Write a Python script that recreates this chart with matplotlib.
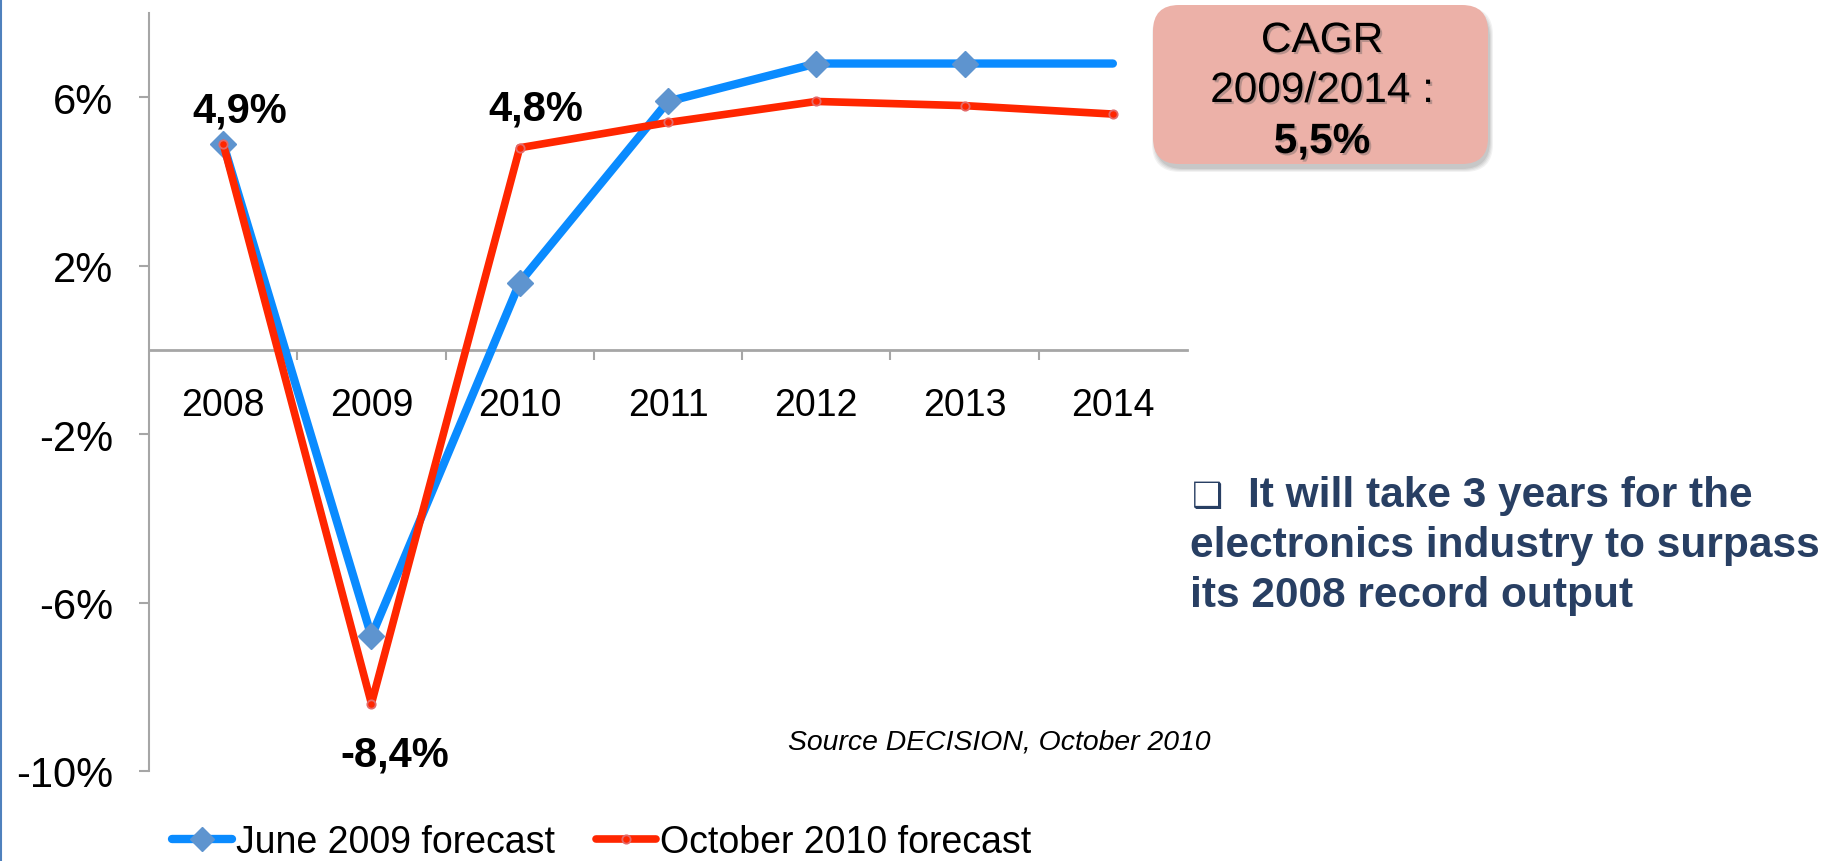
import matplotlib
matplotlib.use("Agg")
import matplotlib.pyplot as plt
import matplotlib.patheffects as pe
from matplotlib.lines import Line2D
from matplotlib.patches import FancyBboxPatch
from matplotlib.transforms import IdentityTransform

plt.rcParams['font.family'] = ['Liberation Sans', 'DejaVu Sans']

# Growth of world electronics output, % per year
years = ["2008", "2009", "2010", "2011", "2012", "2013", "2014"]
june_2009 = [4.9, -6.8, 1.6, 5.9, 6.8, 6.8, 6.8]
october_2010 = [4.9, -8.4, 4.8, 5.4, 5.9, 5.8, 5.6]
y_ticks = [-10, -6, -2, 2, 6]
y_tick_labels = ["-10%", "-6%", "-2%", "2%", "6%"]
series_names = ["June 2009 forecast", "October 2010 forecast"]
labelled_points = [0, 1, 2]      # October 2010 points that get a value label
cagr = 5.5

BLUE = '#0A8BFF'
DIAMOND = '#5E94CF'
RED = '#FF2600'
RED_EDGE = '#E36A6A'
GRAY = '#A6A6A6'
NAVY = '#283F63'

W, H = 1833, 862
fig = plt.figure(figsize=(W / 100, H / 100), dpi=100)
ax = fig.add_axes([149 / W, 1 - 772 / H, 1038 / W, (772 - 14) / H])

x = list(range(len(years)))
ax.plot(x, june_2009, color=BLUE, lw=6, solid_capstyle='round',
        solid_joinstyle='round', zorder=3)
ax.plot(x[:-1], june_2009[:-1], ls='none', marker='D', ms=13,
        color=DIAMOND, zorder=4)
ax.plot(x, october_2010, color=RED, lw=5.5, solid_capstyle='round',
        solid_joinstyle='round', marker='o', ms=6, mfc=RED, mec=RED_EDGE,
        mew=1.3, zorder=5)

ax.set_xlim(-0.5, len(years) - 0.5)
ax.set_ylim(-10, 8)

for side in ('top', 'right'):
    ax.spines[side].set_visible(False)
ax.spines['left'].set_color(GRAY)
ax.spines['left'].set_linewidth(1.5)
ax.spines['bottom'].set_position(('data', 0))
ax.spines['bottom'].set_color(GRAY)
ax.spines['bottom'].set_linewidth(2)

ax.set_xticks(x)
ax.set_xticklabels(years)
ax.set_xticks([i + 0.5 for i in x[:-1]], minor=True)
ax.tick_params(axis='x', which='major', length=0, pad=27, labelsize=27)
ax.tick_params(axis='x', which='minor', length=7, width=1.5, color=GRAY)

ax.set_yticks(y_ticks)
ax.set_yticklabels(y_tick_labels)
ax.tick_params(axis='y', length=7, width=1.5, color=GRAY, pad=19, labelsize=30)

# value labels on the October 2010 series
offsets = {0: (17, 22), 1: (23, -62), 2: (16, 28)}
for i in labelled_points:
    v = october_2010[i]
    ax.annotate(f"{v:.1f}%".replace('.', ','), (i, v), xytext=offsets[i],
                textcoords='offset pixels', ha='center', va='baseline',
                fontsize=30, fontweight='bold', zorder=6)

# legend
handles = [
    Line2D([], [], color=BLUE, lw=6, marker='D', ms=12, mfc=DIAMOND,
           mec=DIAMOND, solid_capstyle='round'),
    Line2D([], [], color=RED, lw=5.5, marker='o', ms=6, mfc=RED,
           mec=RED_EDGE, mew=1.3, solid_capstyle='round'),
]
fig.legend(handles, series_names, loc='center left',
           bbox_to_anchor=(172 / W, 1 - 843 / H), ncol=2, frameon=False,
           fontsize=27, handlelength=1.6, handletextpad=0.1,
           columnspacing=1.1, borderpad=0, borderaxespad=0)

# CAGR box with a soft drop shadow
bx, by, bw, bh = 1153, H - 165, 335, 159
for k, a in enumerate([0.05, 0.05, 0.06, 0.07]):
    grow = 3 - k
    fig.patches.append(FancyBboxPatch(
        (bx + 2 - grow, by - 5 - grow), bw + 2 * grow, bh + 2 * grow,
        boxstyle="round,pad=0,rounding_size=28", transform=IdentityTransform(),
        facecolor='#000000', edgecolor='none', alpha=a, figure=fig))
fig.patches.append(FancyBboxPatch(
    (bx, by), bw, bh, boxstyle="round,pad=0,rounding_size=26",
    transform=IdentityTransform(), facecolor='#ECB1A8', edgecolor='none',
    figure=fig))

shadow = [pe.SimplePatchShadow(offset=(1.5, -1.5), shadow_rgbFace='#555555',
                               alpha=0.35), pe.Normal()]
cx = 1322 / W
fig.text(cx, 1 - 53 / H, "CAGR", ha='center', va='baseline', fontsize=30.5,
         path_effects=shadow)
fig.text(cx, 1 - 103 / H, "2009/2014 :", ha='center', va='baseline',
         fontsize=30.5, path_effects=shadow)
fig.text(cx, 1 - 154 / H, f"{cagr:.1f}%".replace('.', ','), ha='center',
         va='baseline', fontsize=30.5, fontweight='bold', path_effects=shadow)

# comment on the right
fig.text(1192 / W, 1 - 507 / H, "\u2751", ha='left', va='baseline',
         fontsize=25, color=NAVY, family=['DejaVu Sans'])
fig.text(1248 / W, 1 - 507 / H, "It will take 3 years for the", ha='left',
         va='baseline', fontsize=30.5, fontweight='bold', color=NAVY)
fig.text(1190 / W, 1 - 557 / H, "electronics industry to surpass", ha='left',
         va='baseline', fontsize=30.5, fontweight='bold', color=NAVY)
fig.text(1190 / W, 1 - 607 / H, "its 2008 record output", ha='left',
         va='baseline', fontsize=30.5, fontweight='bold', color=NAVY)

fig.text(788 / W, 1 - 750 / H, "Source DECISION, October 2010", ha='left',
         va='baseline', fontsize=20.4, style='italic')

# thin slide border on the left edge
fig.add_artist(Line2D([0.0008, 0.0008], [0, 1], transform=fig.transFigure,
                      color='#4F81BD', lw=1.5))

fig.savefig('out.png', dpi=100)
